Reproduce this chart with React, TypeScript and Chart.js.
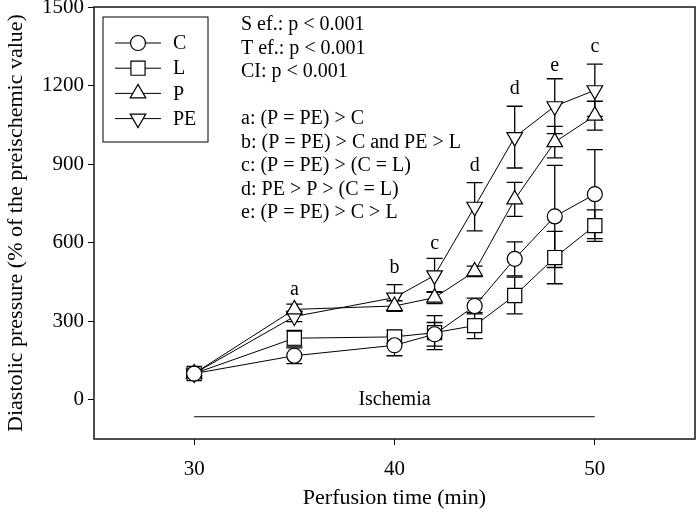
import React, { useEffect, useRef } from 'react';
import { Chart, registerables } from 'chart.js';
Chart.register(...registerables);

const times = [30, 35, 40, 42, 44, 46, 48, 50];
const seriesNames = ['C', 'L', 'P', 'PE'];
const cValues = [100, 168, 208, 250, 358, 538, 700, 785];
const lValues = [100, 235, 240, 256, 283, 398, 543, 665];
const pValues = [100, 345, 358, 390, 490, 765, 984, 1085];
const peValues = [100, 318, 390, 475, 737, 1003, 1121, 1182];
const cErrors = [8, 30, 40, 45, 30, 65, 195, 170];
const lErrors = [8, 30, 25, 65, 50, 70, 100, 60];
const pErrors = [8, 20, 20, 23, 20, 65, 60, 55];
const peErrors = [8, 20, 50, 65, 92, 118, 105, 100];
const xTicks = [30, 40, 50];
const yTicks = [0, 300, 600, 900, 1200, 1500];
const statsLines = [
  'S ef.: p < 0.001',
  'T ef.: p < 0.001',
  'CI: p < 0.001',
  '',
  'a: (P = PE) > C',
  'b: (P = PE) > C and PE > L',
  'c: (P = PE) > (C = L)',
  'd: PE > P > (C = L)',
  'e: (P = PE) > C > L',
];
const letterLabels = ['a', 'b', 'c', 'd', 'd', 'e', 'c'];
const letterX = [35, 40, 42, 44, 46, 48, 50];
const letterY = [421, 505, 597, 895, 1186, 1274, 1347];
const ischemiaX = [30, 50];
const ischemiaY = -65;
const ischemiaLabel = 'Ischemia';
const ischemiaLabelY = 0;

const FONT = '"Liberation Serif", "Times New Roman", serif';
const markerStyles = ['circle', 'rect', 'triangle', 'triangle'];
const markerRadius = [7.5, 10, 9, 9];
const markerRotation = [0, 0, 0, 180];

function drawMarker(ctx: CanvasRenderingContext2D, idx: number, x: number, y: number) {
  const r = markerRadius[idx];
  const style = markerStyles[idx];
  ctx.save();
  ctx.beginPath();
  if (style === 'circle') {
    ctx.arc(x, y, r, 0, Math.PI * 2);
  } else if (style === 'rect') {
    const s = r / Math.SQRT2;
    ctx.rect(x - s, y - s, 2 * s, 2 * s);
  } else {
    let rad = (markerRotation[idx] * Math.PI) / 180;
    ctx.moveTo(x + Math.sin(rad) * r, y - Math.cos(rad) * r);
    rad += (2 * Math.PI) / 3;
    ctx.lineTo(x + Math.sin(rad) * r, y - Math.cos(rad) * r);
    rad += (2 * Math.PI) / 3;
    ctx.lineTo(x + Math.sin(rad) * r, y - Math.cos(rad) * r);
    ctx.closePath();
  }
  ctx.fillStyle = '#fff';
  ctx.strokeStyle = '#000';
  ctx.lineWidth = 1.2;
  ctx.fill();
  ctx.stroke();
  ctx.restore();
}

const allValues = [cValues, lValues, pValues, peValues];
const allErrors = [cErrors, lErrors, pErrors, peErrors];

const customPlugin = {
  id: 'custom',
  beforeDatasetsDraw(chart: any) {
    const ctx = chart.ctx as CanvasRenderingContext2D;
    const xs = chart.scales.x;
    const ys = chart.scales.y;
    ctx.save();
    ctx.strokeStyle = '#000';
    ctx.lineWidth = 1.3;
    allValues.forEach((vals, i) => {
      vals.forEach((v, j) => {
        const px = xs.getPixelForValue(times[j]);
        const top = ys.getPixelForValue(v + allErrors[i][j]);
        const bot = ys.getPixelForValue(v - allErrors[i][j]);
        ctx.beginPath();
        ctx.moveTo(px, top);
        ctx.lineTo(px, bot);
        ctx.moveTo(px - 8, top);
        ctx.lineTo(px + 8, top);
        ctx.moveTo(px - 8, bot);
        ctx.lineTo(px + 8, bot);
        ctx.stroke();
      });
    });
    ctx.restore();
  },
  afterDraw(chart: any) {
    const ctx = chart.ctx as CanvasRenderingContext2D;
    const ca = chart.chartArea;
    const xs = chart.scales.x;
    const ys = chart.scales.y;
    ctx.save();
    // frame
    ctx.strokeStyle = '#222';
    ctx.lineWidth = 1.6;
    ctx.strokeRect(ca.left, ca.top, ca.right - ca.left, ca.bottom - ca.top);
    // legend box
    const lx = ca.left + 9;
    const ly = ca.top + 10;
    ctx.lineWidth = 1;
    ctx.strokeStyle = '#000';
    ctx.strokeRect(lx, ly, 105, 125);
    ctx.font = `20px ${FONT}`;
    ctx.fillStyle = '#000';
    ctx.textBaseline = 'middle';
    ctx.textAlign = 'left';
    seriesNames.forEach((name, i) => {
      const yy = ly + 26 + i * 25.2;
      ctx.beginPath();
      ctx.lineWidth = 1;
      ctx.moveTo(lx + 12, yy);
      ctx.lineTo(lx + 58, yy);
      ctx.stroke();
      drawMarker(ctx, i, lx + 35, yy);
      ctx.fillStyle = '#000';
      ctx.fillText(name, lx + 70, yy + 1);
    });
    // stats text
    ctx.font = `20px ${FONT}`;
    statsLines.forEach((t, i) => {
      if (t) ctx.fillText(t, ca.left + 147, ca.top + 18 + i * 23.5);
    });
    // letters
    ctx.textAlign = 'center';
    letterLabels.forEach((t, i) => {
      ctx.fillText(t, xs.getPixelForValue(letterX[i]), ys.getPixelForValue(letterY[i]));
    });
    // ischemia
    ctx.fillText(ischemiaLabel, xs.getPixelForValue((ischemiaX[0] + ischemiaX[1]) / 2), ys.getPixelForValue(ischemiaLabelY));
    ctx.restore();
  },
};

export default function App() {
  const ref = useRef<HTMLCanvasElement>(null);
  useEffect(() => {
    if (!ref.current) return;
    document.body.style.margin = '0';
    const datasets: any[] = allValues.map((vals, i) => ({
      label: seriesNames[i],
      data: vals.map((v, j) => ({ x: times[j], y: v })),
      showLine: true,
      borderColor: '#000',
      borderWidth: 1,
      backgroundColor: '#fff',
      pointBackgroundColor: '#fff',
      pointBorderColor: '#000',
      pointBorderWidth: 1.2,
      pointStyle: markerStyles[i],
      pointRadius: markerRadius[i],
      pointRotation: markerRotation[i],
      pointHoverRadius: markerRadius[i],
      tension: 0,
    }));
    datasets.push({
      label: ischemiaLabel,
      data: ischemiaX.map((x) => ({ x, y: ischemiaY })),
      showLine: true,
      borderColor: '#000',
      borderWidth: 1,
      pointRadius: 0,
    });
    const chart = new Chart(ref.current, {
      type: 'scatter',
      data: { datasets },
      plugins: [customPlugin],
      options: {
        animation: false,
        responsive: false,
        layout: { autoPadding: false, padding: { left: 0, right: 1, top: 7, bottom: 0 } },
        plugins: { legend: { display: false }, tooltip: { enabled: false } },
        scales: {
          x: {
            type: 'linear',
            min: 25,
            max: 55,
            afterBuildTicks: (s: any) => {
              s.ticks = xTicks.map((v) => ({ value: v }));
            },
            afterFit: (s: any) => {
              s.height = 76;
              s.paddingLeft = 0;
              s.paddingRight = 0;
            },
            grid: { drawOnChartArea: false, drawTicks: true, tickLength: 6, color: '#000', lineWidth: 1 },
            border: { display: false },
            ticks: { color: '#000', font: { family: FONT, size: 21 }, padding: 12, maxRotation: 0, callback: (v: any) => String(v) },
            title: {
              display: true,
              text: 'Perfusion time (min)',
              color: '#000',
              font: { family: FONT, size: 22 },
              padding: { top: 0, bottom: 4 },
            },
          },
          y: {
            type: 'linear',
            min: -150,
            max: 1500,
            afterBuildTicks: (s: any) => {
              s.ticks = yTicks.map((v) => ({ value: v }));
            },
            afterFit: (s: any) => {
              s.width = 94;
              s.paddingTop = 0;
              s.paddingBottom = 0;
            },
            grid: { drawOnChartArea: false, drawTicks: true, tickLength: 6, color: '#000', lineWidth: 1 },
            border: { display: false },
            ticks: { color: '#000', font: { family: FONT, size: 21 }, padding: 4, callback: (v: any) => String(v) },
            title: {
              display: true,
              text: 'Diastolic pressure (% of the preischemic value)',
              color: '#000',
              font: { family: FONT, size: 22 },
              padding: { top: 3, bottom: 0 },
            },
          },
        },
      },
    });
    return () => chart.destroy();
  }, []);
  return (
    <div style={{ width: 696, height: 515 }}>
      <canvas ref={ref} width={696} height={515} style={{ display: 'block' }} />
    </div>
  );
}
